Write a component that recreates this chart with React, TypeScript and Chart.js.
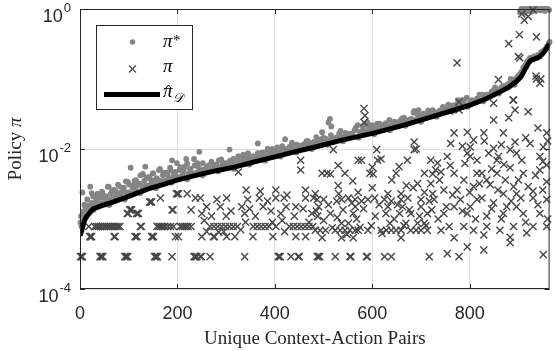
import React, { useEffect, useRef } from "react";
import { Chart, registerables } from "chart.js";

Chart.register(...registerables);

// ---- axis ticks ----
const xTicks = [0, 200, 400, 600, 800];
const yTickExponents = [-4, -2, 0];
const xMax = 964;

// ---- estimated policy pi_hat_D (black line) ----
const piHat: [number, number][] = [
  [0, 5.8e-4], [3, 6.6e-4], [6, 8.0e-4], [10, 9.8e-4], [15, 1.12e-3], [27, 1.4e-3], [45, 1.55e-3],
  [63, 1.7e-3], [100, 2.1e-3], [140, 2.7e-3], [170, 3.1e-3], [199, 3.6e-3], [244, 4.3e-3],
  [280, 4.9e-3], [321, 5.6e-3], [360, 6.6e-3], [402, 7.8e-3], [440, 9.1e-3], [483, 1.07e-2],
  [540, 1.35e-2], [605, 1.7e-2], [665, 2.19e-2], [727, 2.95e-2], [765, 3.55e-2], [802, 4.27e-2],
  [835, 5.25e-2], [863, 6.6e-2], [880, 7.6e-2], [895, 9.1e-2], [905, 0.107], [913, 0.135],
  [920, 0.166], [926, 0.186], [935, 0.195], [944, 0.209], [952, 0.24], [958, 0.275], [964, 0.32],
];

// ---- optimal policy pi* (gray dots) ----
const piStarLeft: [number, number][] = [
  [1, 8.9e-4], [2, 1.1e-3], [3, 7.9e-4], [5, 2.4e-3], [6, 1.26e-3], [9, 1.6e-3], [12, 1.4e-3], [15, 1.9e-3],
  [18, 1.3e-3], [21, 2.9e-3], [24, 1.7e-3], [27, 2.1e-3], [30, 1.5e-3], [33, 1.8e-3], [36, 2.3e-3], [40, 1.6e-3],
  [43, 2.0e-3], [46, 2.3e-3], [50, 1.7e-3], [53, 2.1e-3], [57, 2.9e-3], [60, 1.9e-3], [63, 2.3e-3], [67, 1.8e-3],
  [70, 2.6e-3], [74, 2.1e-3], [78, 3.1e-3], [82, 2.3e-3], [86, 2.0e-3], [90, 2.8e-3], [94, 2.4e-3], [98, 3.4e-3],
  [102, 2.3e-3], [104, 5.4e-3], [108, 2.8e-3], [112, 3.5e-3], [116, 2.5e-3], [120, 3.2e-3], [124, 4.2e-3],
  [128, 2.75e-3], [132, 3.5e-3], [134, 5.6e-3], [138, 3.0e-3], [142, 4.0e-3], [146, 3.2e-3], [150, 4.5e-3],
  [154, 3.3e-3], [158, 3.8e-3], [162, 5.0e-3], [166, 3.5e-3], [170, 4.2e-3], [174, 3.5e-3], [178, 4.6e-3],
  [182, 3.8e-3], [186, 5.0e-3], [189, 6.9e-3], [192, 4.0e-3], [196, 4.7e-3], [200, 3.8e-3], [205, 5.0e-3],
  [210, 4.2e-3], [215, 5.6e-3], [218, 7.2e-3], [222, 4.4e-3], [226, 5.2e-3], [230, 4.4e-3], [235, 5.8e-3],
  [240, 4.6e-3], [245, 9.1e-3], [248, 5.0e-3], [252, 6.3e-3], [256, 4.8e-3], [260, 5.6e-3], [265, 5.0e-3],
  [270, 6.6e-3], [275, 5.2e-3], [280, 6.0e-3], [285, 5.4e-3], [290, 7.1e-3], [295, 5.8e-3], [300, 6.3e-3],
  [307, 9.8e-3], [310, 6.0e-3], [315, 7.2e-3], [320, 6.3e-3], [325, 7.9e-3], [330, 6.6e-3], [335, 7.6e-3],
  [340, 6.9e-3], [345, 8.7e-3], [350, 7.2e-3], [355, 7.9e-3], [360, 7.4e-3], [365, 1.2e-2], [370, 7.9e-3],
  [375, 8.9e-3], [380, 7.9e-3], [385, 9.5e-3], [390, 8.3e-3], [395, 1.0e-2], [400, 8.7e-3], [405, 1.05e-2],
  [410, 9.1e-3], [415, 1.1e-2], [421, 1.38e-2], [425, 1.0e-2], [430, 1.07e-2], [435, 1.0e-2], [440, 1.1e-2],
  [445, 1.02e-2],
];
const piStarRight: [number, number][] = [
  [450, 1.12e-2], [455, 1.05e-2], [460, 1.17e-2], [465, 1.1e-2], [470, 1.2e-2], [475, 1.12e-2], [480, 1.26e-2],
  [485, 1.17e-2], [490, 1.32e-2], [497, 1.74e-2], [500, 1.26e-2], [505, 1.38e-2], [510, 2.4e-2], [513, 2.7e-2],
  [516, 2.1e-2], [520, 1.35e-2], [525, 1.45e-2], [530, 1.38e-2], [535, 1.51e-2], [540, 1.45e-2], [545, 1.58e-2],
  [550, 1.51e-2], [555, 1.66e-2], [560, 1.58e-2], [566, 2.0e-2], [570, 2.2e-2], [575, 1.74e-2], [580, 2.1e-2],
  [585, 1.82e-2], [590, 2.4e-2], [595, 1.9e-2], [600, 2.2e-2], [605, 1.86e-2], [610, 2.3e-2], [615, 2.0e-2],
  [620, 2.2e-2], [625, 1.95e-2], [630, 2.14e-2], [635, 2.0e-2], [640, 2.2e-2], [645, 2.1e-2], [650, 2.34e-2],
  [655, 2.2e-2], [660, 2.45e-2], [665, 2.3e-2], [670, 2.57e-2], [675, 2.4e-2], [680, 2.7e-2], [686, 3.5e-2],
  [690, 2.63e-2], [695, 3.6e-2], [700, 2.82e-2], [705, 3.2e-2], [710, 3.0e-2], [715, 3.5e-2], [720, 3.16e-2],
  [725, 3.4e-2], [730, 3.16e-2], [735, 3.4e-2], [740, 3.24e-2], [745, 3.6e-2], [750, 3.4e-2], [755, 3.8e-2],
  [760, 3.6e-2], [765, 4.0e-2], [770, 3.8e-2], [776, 5.0e-2], [780, 4.1e-2], [785, 4.37e-2], [790, 4.27e-2],
  [794, 5.4e-2], [800, 4.57e-2], [805, 4.9e-2], [810, 4.68e-2], [815, 5.25e-2], [820, 5.0e-2], [828, 5.9e-2],
  [832, 5.4e-2], [838, 5.75e-2], [843, 6.0e-2], [849, 6.9e-2], [853, 6.6e-2], [858, 6.9e-2], [863, 7.1e-2],
  [868, 7.6e-2], [872, 7.9e-2], [877, 8.3e-2], [882, 8.7e-2], [886, 8.9e-2], [890, 9.5e-2], [894, 0.1],
  [898, 0.105], [902, 0.115], [906, 0.126], [910, 0.145], [914, 0.158], [918, 0.178], [922, 0.19], [926, 0.2],
  [930, 0.19], [934, 0.21], [938, 0.2], [942, 0.22], [946, 0.24], [950, 0.25], [954, 0.26], [958, 0.29],
  [962, 0.32],
  [903, 0.9], [906, 1], [908, 0.95], [910, 1], [913, 0.88], [915, 1], [917, 0.93], [920, 1], [922, 0.97],
  [925, 1], [928, 0.92], [930, 1], [933, 1], [936, 0.95], [939, 1], [942, 1], [945, 0.96], [948, 1], [951, 1],
  [954, 0.94], [957, 1], [960, 1], [963, 0.97],
];
// dots lying right along the black curve (its gray halo)
const piStarNearCurve: [number, number][] = [
  [4, 8.1e-4], [12, 1.1e-3], [20, 1.55e-3], [28, 1.35e-3], [36, 1.7e-3], [44, 1.66e-3], [52, 2.0e-3],
  [60, 1.58e-3], [68, 2.0e-3], [76, 1.95e-3], [84, 2.4e-3], [92, 1.9e-3], [100, 2.4e-3], [108, 2.35e-3],
  [116, 2.95e-3], [124, 2.35e-3], [132, 2.95e-3], [140, 2.9e-3], [148, 3.55e-3], [156, 2.75e-3], [164, 3.45e-3],
  [172, 3.4e-3], [180, 4.2e-3], [188, 3.3e-3], [196, 4.1e-3], [204, 4.0e-3], [212, 4.8e-3], [220, 3.7e-3],
  [228, 4.6e-3], [236, 4.5e-3], [244, 5.4e-3], [252, 4.2e-3], [260, 5.2e-3], [268, 5.0e-3], [276, 6.0e-3],
  [284, 4.8e-3], [292, 5.9e-3], [300, 5.6e-3], [308, 6.8e-3], [316, 5.2e-3], [324, 6.6e-3], [332, 6.3e-3],
  [340, 7.8e-3], [348, 6.0e-3], [356, 7.4e-3], [364, 7.2e-3], [372, 8.7e-3], [380, 6.8e-3], [388, 8.5e-3],
  [396, 8.1e-3], [404, 9.8e-3], [412, 7.8e-3], [420, 9.5e-3], [428, 9.3e-3], [436, 1.12e-2], [444, 8.9e-3],
  [452, 1.1e-2], [460, 1.05e-2], [468, 1.29e-2], [476, 1.0e-2], [484, 1.23e-2], [492, 1.2e-2], [500, 1.45e-2],
  [508, 1.15e-2], [516, 1.41e-2], [524, 1.35e-2], [532, 1.66e-2], [540, 1.29e-2], [548, 1.58e-2], [556, 1.55e-2],
  [564, 1.86e-2], [572, 1.45e-2], [580, 1.78e-2], [588, 1.7e-2], [596, 2.1e-2], [604, 1.62e-2], [612, 2.0e-2],
  [620, 1.95e-2], [628, 2.35e-2], [636, 1.86e-2], [644, 2.3e-2], [652, 2.24e-2], [660, 2.7e-2], [668, 2.14e-2],
  [676, 2.6e-2], [684, 2.57e-2], [692, 3.16e-2], [700, 2.45e-2], [708, 3.1e-2], [716, 3.0e-2], [724, 3.6e-2],
  [732, 2.9e-2], [740, 3.6e-2], [748, 3.5e-2], [756, 4.3e-2], [764, 3.4e-2], [772, 4.3e-2], [780, 4.1e-2],
  [788, 5.0e-2], [796, 4.0e-2], [804, 5.0e-2], [812, 4.9e-2], [820, 6.0e-2], [828, 4.8e-2], [836, 6.0e-2],
  [844, 6.0e-2], [852, 7.6e-2], [860, 6.2e-2], [868, 7.9e-2], [876, 7.9e-2], [884, 0.1], [892, 8.3e-2],
  [900, 0.112], [908, 0.12], [916, 0.15], [924, 0.2], [932, 0.21], [940, 0.22], [948, 0.23], [956, 0.27],
  [964, 0.34],
];
// dots in the upper part of the gray band
const piStarUpperBand: [number, number][] = [
  [3, 9.1e-4], [10, 1.55e-3], [17, 1.55e-3], [24, 2.35e-3], [31, 2.1e-3], [38, 2.05e-3], [45, 2.45e-3],
  [52, 2.1e-3], [59, 2.9e-3], [66, 2.55e-3], [73, 2.5e-3], [80, 2.95e-3], [87, 2.55e-3], [94, 3.45e-3],
  [101, 3.1e-3], [108, 3.0e-3], [115, 3.6e-3], [122, 3.2e-3], [129, 4.4e-3], [136, 3.9e-3], [143, 3.8e-3],
  [150, 4.5e-3], [157, 3.8e-3], [164, 5.2e-3], [171, 4.6e-3], [178, 4.6e-3], [185, 5.4e-3], [192, 4.6e-3],
  [199, 6.3e-3], [206, 5.5e-3], [213, 5.2e-3], [220, 6.2e-3], [227, 5.2e-3], [234, 7.2e-3], [241, 6.3e-3],
  [255, 5.1e-3], [265, 5.9e-3], [275, 5.4e-3], [285, 6.9e-3], [295, 6.3e-3], [305, 6.3e-3], [315, 7.1e-3],
  [325, 6.5e-3], [335, 8.3e-3], [345, 7.8e-3], [355, 7.6e-3], [365, 8.7e-3], [375, 7.9e-3], [385, 1.0e-2],
  [395, 9.3e-3], [405, 9.3e-3], [415, 1.05e-2], [425, 9.5e-3], [435, 1.23e-2], [445, 1.15e-2], [455, 1.12e-2],
  [465, 1.29e-2], [475, 1.17e-2], [485, 1.48e-2], [495, 1.38e-2], [505, 1.38e-2], [515, 1.58e-2], [525, 1.41e-2],
  [535, 1.82e-2], [545, 1.7e-2], [555, 1.66e-2], [565, 1.9e-2], [575, 1.74e-2], [585, 2.2e-2], [595, 2.04e-2],
  [605, 2.0e-2], [615, 2.3e-2], [625, 2.04e-2], [635, 2.6e-2], [645, 2.45e-2], [655, 2.45e-2], [665, 2.8e-2],
  [675, 2.57e-2], [685, 3.3e-2], [695, 3.1e-2], [705, 3.1e-2], [715, 3.55e-2], [725, 3.24e-2], [745, 4.0e-2],
  [765, 4.2e-2], [785, 5.0e-2], [805, 4.9e-2], [825, 6.0e-2], [845, 6.6e-2], [865, 7.6e-2], [885, 9.1e-2],
];

// ---- behaviour policy pi (crosses) ----
const piLeft: [number, number][] = [
  [1, 2.9e-4], [3, 2.9e-4], [5, 2.9e-4], [41, 2.9e-4], [43, 2.9e-4], [45, 2.9e-4], [47, 2.9e-4], [92, 2.9e-4],
  [94, 2.9e-4], [96, 2.9e-4], [98, 2.9e-4], [153, 2.9e-4], [155, 2.9e-4], [157, 2.9e-4], [159, 2.9e-4],
  [189, 2.9e-4], [234, 2.9e-4], [236, 2.9e-4], [238, 2.9e-4], [240, 2.9e-4],
  [20, 5.6e-4], [22, 5.6e-4], [24, 5.6e-4], [70, 5.6e-4], [72, 5.6e-4], [113, 5.6e-4], [115, 5.6e-4],
  [117, 5.6e-4], [147, 5.6e-4], [149, 5.6e-4], [151, 5.6e-4], [196, 5.6e-4], [202, 5.6e-4],
  [18, 7.8e-4], [30, 7.8e-4], [34, 7.8e-4], [38, 7.8e-4], [42, 7.8e-4], [46, 7.8e-4], [50, 7.8e-4],
  [54, 7.8e-4], [58, 7.8e-4], [62, 7.8e-4], [66, 7.8e-4], [70, 7.8e-4], [74, 7.8e-4], [78, 7.8e-4],
  [82, 7.8e-4], [124, 7.8e-4], [126, 7.8e-4], [158, 7.8e-4], [162, 7.8e-4], [166, 7.8e-4], [170, 7.8e-4],
  [174, 7.8e-4], [180, 7.8e-4], [186, 7.8e-4], [192, 7.8e-4], [206, 7.8e-4], [210, 7.8e-4], [214, 7.8e-4],
  [218, 7.8e-4], [222, 7.8e-4], [228, 7.8e-4],
  [97, 1.2e-3], [99, 1.2e-3], [116, 1.2e-3], [118, 1.2e-3], [120, 1.2e-3],
  [102, 1.35e-3], [104, 1.35e-3], [106, 1.35e-3], [189, 1.35e-3], [191, 1.35e-3], [228, 1.35e-3],
  [143, 1.75e-3], [145, 1.75e-3], [147, 1.75e-3], [165, 2.0e-3],
  [198, 2.3e-3], [200, 2.3e-3], [202, 2.3e-3], [220, 2.3e-3], [237, 2.0e-3],
];
const piMidLeft: [number, number][] = [
  [247, 2.9e-4], [249, 2.9e-4], [267, 2.9e-4], [338, 2.9e-4], [407, 2.9e-4], [409, 2.9e-4], [411, 2.9e-4],
  [433, 2.9e-4], [448, 2.9e-4], [450, 2.9e-4], [487, 2.9e-4],
  [250, 5.6e-4], [274, 5.6e-4], [276, 5.6e-4], [301, 5.6e-4], [318, 5.6e-4], [355, 5.6e-4], [396, 5.6e-4],
  [443, 5.6e-4], [463, 5.6e-4],
  [267, 7.8e-4], [275, 7.8e-4], [283, 7.8e-4], [291, 7.8e-4], [299, 7.8e-4], [307, 7.8e-4], [315, 7.8e-4],
  [323, 7.8e-4], [356, 7.8e-4], [364, 7.8e-4], [372, 7.8e-4], [380, 7.8e-4], [388, 7.8e-4], [402, 7.8e-4],
  [430, 7.8e-4], [438, 7.8e-4], [446, 7.8e-4], [454, 7.8e-4], [462, 7.8e-4], [470, 7.8e-4], [478, 7.8e-4],
  [260, 6.6e-4], [295, 6.6e-4], [420, 6.6e-4], [395, 9.0e-4], [340, 9.0e-4],
  [250, 1.2e-3], [338, 1.2e-3], [412, 1.2e-3], [476, 1.2e-3], [300, 1.1e-3],
  [260, 1.5e-3], [288, 1.5e-3], [332, 1.5e-3], [376, 1.5e-3], [423, 1.5e-3], [443, 1.5e-3],
  [247, 2.0e-3], [281, 1.9e-3], [301, 2.0e-3], [344, 1.9e-3], [368, 2.0e-3], [385, 1.8e-3], [402, 2.0e-3],
  [419, 2.0e-3], [425, 2.2e-3], [463, 2.0e-3], [480, 2.0e-3],
  [341, 2.6e-3], [402, 2.6e-3], [463, 2.6e-3], [370, 2.5e-3],
  [325, 4.7e-3], [453, 6.9e-3], [453, 5.0e-3],
  [255, 9.5e-4], [270, 1.1e-3], [285, 6.5e-4], [310, 1.3e-3], [330, 7.0e-4], [348, 1.4e-3], [360, 1.1e-3],
  [392, 1.3e-3], [415, 9.5e-4], [440, 1.1e-3], [458, 1.4e-3], [470, 9.0e-4], [485, 1.3e-3],
];
const piMidRight: [number, number][] = [
  [490, 2.9e-4], [492, 2.9e-4], [524, 2.9e-4], [554, 2.9e-4], [556, 2.9e-4], [588, 2.9e-4], [590, 2.9e-4],
  [625, 2.9e-4], [639, 2.9e-4], [717, 2.9e-4],
  [497, 5.4e-4], [537, 5.4e-4], [561, 5.4e-4], [659, 5.4e-4],
  [483, 6.9e-4], [493, 6.9e-4], [504, 6.9e-4], [524, 6.9e-4], [534, 6.9e-4], [544, 6.9e-4], [554, 6.9e-4],
  [565, 6.9e-4], [571, 6.9e-4], [591, 6.9e-4], [618, 6.9e-4], [629, 6.9e-4], [639, 6.9e-4], [649, 6.9e-4],
  [659, 6.9e-4], [679, 6.9e-4], [690, 6.9e-4], [700, 6.9e-4], [713, 6.9e-4],
  [537, 8.7e-4], [551, 8.7e-4], [636, 8.7e-4], [669, 8.7e-4], [693, 8.7e-4], [707, 8.7e-4],
  [514, 1.2e-3], [561, 1.2e-3], [656, 1.2e-3], [679, 1.2e-3], [713, 1.2e-3],
  [490, 1.5e-3], [565, 1.5e-3], [632, 1.5e-3], [662, 1.5e-3], [700, 1.5e-3],
  [487, 1.9e-3], [500, 1.9e-3], [527, 1.8e-3], [537, 1.9e-3], [551, 2.0e-3], [565, 1.9e-3], [578, 1.8e-3],
  [591, 1.9e-3], [605, 2.0e-3], [625, 1.9e-3], [639, 1.8e-3], [659, 1.9e-3], [673, 2.0e-3], [700, 1.9e-3],
  [717, 1.8e-3], [727, 1.9e-3],
  [483, 2.3e-3], [531, 2.3e-3], [571, 2.4e-3], [632, 2.3e-3], [659, 2.3e-3], [707, 2.4e-3], [724, 2.3e-3],
  [693, 3.2e-3], [720, 3.2e-3],
  [497, 4.5e-3], [507, 4.5e-3], [514, 4.4e-3], [544, 4.5e-3], [595, 4.5e-3], [602, 4.4e-3], [649, 4.5e-3],
  [707, 4.5e-3], [724, 4.4e-3],
  [571, 6.9e-3], [578, 6.9e-3], [611, 6.9e-3], [618, 7.2e-3], [672, 6.9e-3], [720, 6.9e-3],
  [520, 9.8e-3], [609, 9.8e-3], [686, 9.8e-3], [690, 1.0e-2], [686, 1.26e-2],
  [583, 3.8e-2], [585, 3.0e-2], [583, 2.4e-2],
  [488, 1.1e-3], [500, 9.5e-4], [510, 1.6e-3], [518, 7.5e-4], [528, 1.05e-3], [540, 1.35e-3], [548, 6.0e-4],
  [558, 1.7e-3], [568, 1.0e-3], [575, 7.6e-4], [582, 1.4e-3], [598, 8.0e-4], [606, 1.1e-3], [614, 1.6e-3],
  [620, 6.2e-4], [628, 1.2e-3], [645, 1.0e-3], [652, 1.6e-3], [665, 8.0e-4], [676, 1.35e-3], [684, 2.8e-3],
  [697, 1.1e-3], [710, 8.0e-4], [722, 1.35e-3], [530, 3.0e-3], [560, 3.5e-3], [600, 2.8e-3], [640, 3.6e-3],
  [670, 3.0e-3], [600, 5.5e-3], [655, 5.6e-3], [530, 5.8e-3],
];
const piRight: [number, number][] = [
  [774, 0.17], [880, 0.32], [902, 0.43], [937, 0.4], [900, 0.21], [912, 0.69], [907, 0.85], [920, 0.78],
  [930, 0.97], [937, 0.1], [944, 0.087], [859, 0.098], [778, 0.047], [778, 0.036], [849, 0.045], [890, 0.05],
  [893, 0.036], [920, 0.034], [849, 0.026], [880, 0.028], [795, 0.0174], [829, 0.017], [869, 0.017],
  [958, 0.017], [761, 0.012], [801, 0.0107], [849, 0.0102], [893, 0.0126], [795, 0.0087], [839, 0.0087],
  [859, 0.0078], [896, 0.0087], [734, 0.0063], [754, 0.0078], [801, 0.0078], [856, 0.0069], [907, 0.0069],
  [944, 0.0078], [958, 0.0059], [730, 0.005], [741, 0.0047], [825, 0.0045], [883, 0.0054], [910, 0.0045],
  [944, 0.005], [747, 0.0026], [774, 0.0026], [808, 0.0029], [842, 0.0031], [869, 0.0023], [896, 0.0023],
  [930, 0.0025], [781, 0.0019], [815, 0.0019], [876, 0.0015], [930, 0.002], [958, 0.0019], [747, 0.0012],
  [795, 0.0012], [835, 0.0011], [869, 0.0012], [896, 0.0015], [741, 6.9e-4], [758, 7.8e-4], [808, 6.9e-4],
  [835, 7.8e-4], [862, 6.9e-4], [930, 7.8e-4], [958, 7.8e-4], [768, 5.4e-4], [829, 5.9e-4], [883, 5.5e-4],
  [754, 3.2e-4], [778, 2.9e-4], [829, 3.6e-4], [951, 3.1e-4], [768, 0.0045], [788, 0.0036], [815, 0.0045],
  [835, 0.0036], [856, 0.0045], [873, 0.0036], [890, 0.0029], [920, 0.0029], [958, 0.0034], [768, 0.0015],
  [801, 0.0015], [849, 0.0017], [910, 0.0012], [944, 0.0012], [788, 7.8e-4], [890, 7.8e-4], [795, 4.0e-4],
  [883, 4.6e-4], [917, 6.3e-4], [815, 0.0069], [883, 0.0098], [924, 0.012], [951, 0.0107], [768, 0.017],
  [808, 0.0135], [903, 0.2], [889, 0.05], [936, 0.11], [946, 0.1],
  [735, 1.0e-3], [752, 1.5e-3], [765, 2.2e-3], [785, 1.3e-3], [800, 2.4e-3], [812, 1.0e-3], [825, 2.0e-3],
  [845, 1.4e-3], [858, 2.6e-3], [865, 1.0e-3], [885, 1.8e-3], [905, 2.0e-3], [915, 9.0e-4], [940, 1.6e-3],
  [950, 2.6e-3], [960, 1.0e-3], [738, 3.6e-3], [760, 5.8e-3], [790, 6.2e-3], [820, 3.2e-3], [845, 5.2e-3],
  [870, 6.0e-3], [900, 3.6e-3], [935, 4.2e-3], [950, 6.6e-3], [785, 0.011], [830, 0.013], [865, 0.0115],
  [915, 0.0145], [940, 0.02], [960, 0.013],
];

const toXY = (pairs: [number, number][]) => pairs.map(([x, y]) => ({ x, y }));

const SANS = '"Liberation Sans", Arial, Helvetica, sans-serif';
const SERIF = '"Liberation Serif", "Times New Roman", serif';
const INK = "#262626";
const DOT = "#858585";
const CROSS = "#474747";

const decor = {
  id: "decor",
  afterDraw(chart: any) {
    const { ctx, chartArea: a, scales } = chart;
    const xs = scales.x;
    const ys = scales.y;
    ctx.save();
    // axes box
    ctx.strokeStyle = INK;
    ctx.lineWidth = 1;
    ctx.strokeRect(a.left + 0.5, a.top + 0.5, a.right - a.left - 1, a.bottom - a.top - 1);
    // inward tick marks
    ctx.beginPath();
    for (const v of xTicks) {
      const px = Math.round(xs.getPixelForValue(v)) + 0.5;
      ctx.moveTo(px, a.bottom);
      ctx.lineTo(px, a.bottom - 5);
      ctx.moveTo(px, a.top);
      ctx.lineTo(px, a.top + 5);
    }
    for (const e of yTickExponents) {
      const py = Math.round(ys.getPixelForValue(Math.pow(10, e))) + 0.5;
      ctx.moveTo(a.left, py);
      ctx.lineTo(a.left + 5, py);
      ctx.moveTo(a.right, py);
      ctx.lineTo(a.right - 5, py);
    }
    ctx.stroke();

    // x tick labels
    ctx.fillStyle = INK;
    ctx.textBaseline = "alphabetic";
    ctx.textAlign = "center";
    ctx.font = `18px ${SANS}`;
    for (const v of xTicks) {
      ctx.fillText(String(v), xs.getPixelForValue(v), 319);
    }
    // y tick labels 10^e
    ctx.textAlign = "right";
    for (const e of yTickExponents) {
      const py = ys.getPixelForValue(Math.pow(10, e));
      const es = String(e);
      ctx.font = `13px ${SANS}`;
      const ew = ctx.measureText(es).width;
      ctx.fillText(es, 71, py + 3);
      ctx.font = `18px ${SANS}`;
      ctx.fillText("10", 71 - ew - 1, py + 13);
    }

    // x title
    ctx.textAlign = "center";
    ctx.font = `19px ${SERIF}`;
    ctx.fillText("Unique Context-Action Pairs", (a.left + a.right) / 2, 344);

    // y title
    ctx.save();
    ctx.translate(21, (a.top + a.bottom) / 2);
    ctx.rotate(-Math.PI / 2);
    ctx.textAlign = "left";
    ctx.font = `19px ${SERIF}`;
    const w1 = ctx.measureText("Policy ").width;
    ctx.font = `italic 19px ${SERIF}`;
    const w2 = ctx.measureText("π").width;
    const start = -(w1 + w2) / 2;
    ctx.font = `19px ${SERIF}`;
    ctx.fillText("Policy ", start, 0);
    ctx.font = `italic 19px ${SERIF}`;
    ctx.fillText("π", start + w1, 0);
    ctx.restore();

    // legend
    ctx.fillStyle = "#ffffff";
    ctx.fillRect(96, 25, 97, 84);
    ctx.strokeStyle = INK;
    ctx.lineWidth = 1;
    ctx.strokeRect(96.5, 25.5, 96, 84);
    // dot
    ctx.fillStyle = DOT;
    ctx.beginPath();
    ctx.arc(132.5, 42, 2.7, 0, Math.PI * 2);
    ctx.fill();
    // cross
    ctx.strokeStyle = CROSS;
    ctx.lineWidth = 1.3;
    ctx.beginPath();
    ctx.moveTo(129, 65.5);
    ctx.lineTo(136, 72.5);
    ctx.moveTo(136, 65.5);
    ctx.lineTo(129, 72.5);
    ctx.stroke();
    // line
    ctx.strokeStyle = "#000";
    ctx.lineWidth = 5;
    ctx.beginPath();
    ctx.moveTo(104, 94.5);
    ctx.lineTo(160, 94.5);
    ctx.stroke();
    // labels
    ctx.fillStyle = "#000";
    ctx.textAlign = "left";
    ctx.font = `italic 19px ${SERIF}`;
    ctx.fillText("π", 163, 47);
    ctx.font = `15px ${SERIF}`;
    ctx.fillText("*", 173, 45);
    ctx.font = `italic 19px ${SERIF}`;
    ctx.fillText("π", 163, 72);
    ctx.fillText("π", 163, 97);
    // hat
    ctx.lineWidth = 1;
    ctx.strokeStyle = "#000";
    ctx.beginPath();
    ctx.moveTo(165.5, 88.5);
    ctx.lineTo(168.5, 85);
    ctx.lineTo(171.5, 88.5);
    ctx.stroke();
    ctx.font = `italic 13px ${SERIF}`;
    ctx.fillText("𝒟", 173, 102);
    ctx.restore();
  },
};

export default function App() {
  const ref = useRef<HTMLCanvasElement | null>(null);
  useEffect(() => {
    if (!ref.current) return;
    const chart = new Chart(ref.current, {
      type: "scatter",
      data: {
        datasets: [
          {
            label: "π̂_D",
            type: "line",
            data: toXY(piHat),
            borderColor: "#000000",
            borderWidth: 5,
            pointRadius: 0,
            tension: 0,
            fill: false,
            order: 0,
          } as any,
          {
            label: "π",
            data: toXY([...piLeft, ...piMidLeft, ...piMidRight, ...piRight]),
            pointStyle: "crossRot",
            pointRadius: 5,
            borderColor: CROSS,
            backgroundColor: CROSS,
            borderWidth: 1.4,
            clip: false,
            order: 1,
          } as any,
          {
            label: "π*",
            data: toXY([...piStarLeft, ...piStarRight, ...piStarNearCurve, ...piStarUpperBand]),
            pointStyle: "circle",
            pointRadius: 2.9,
            borderWidth: 0,
            backgroundColor: DOT,
            clip: false,
            order: 2,
          } as any,
        ],
      },
      options: {
        responsive: false,
        animation: false,
        events: [],
        layout: { padding: { top: 9, right: 1, left: 0, bottom: 0 } },
        plugins: { legend: { display: false }, tooltip: { enabled: false } },
        scales: {
          x: {
            type: "linear",
            min: 0,
            max: xMax,
            afterBuildTicks: (s: any) => {
              s.ticks = xTicks.map((v) => ({ value: v }));
            },
            afterFit: (s: any) => {
              s.height = 62;
            },
            ticks: { display: false },
            grid: { color: "#dfdfdf", lineWidth: 1, drawTicks: false },
            border: { display: false },
          },
          y: {
            type: "logarithmic",
            min: 1e-4,
            max: 1,
            afterBuildTicks: (s: any) => {
              s.ticks = yTickExponents.map((e) => ({ value: Math.pow(10, e) }));
            },
            afterFit: (s: any) => {
              s.width = 80;
            },
            ticks: { display: false },
            grid: { color: "#dfdfdf", lineWidth: 1, drawTicks: false },
            border: { display: false },
          },
        },
      } as any,
      plugins: [decor],
    });
    return () => chart.destroy();
  }, []);
  return (
    <div style={{ position: "fixed", left: 0, top: 0, width: 556, height: 351, background: "#fff" }}>
      <canvas ref={ref} width={556} height={351} style={{ display: "block", width: 556, height: 351 }} />
    </div>
  );
}
